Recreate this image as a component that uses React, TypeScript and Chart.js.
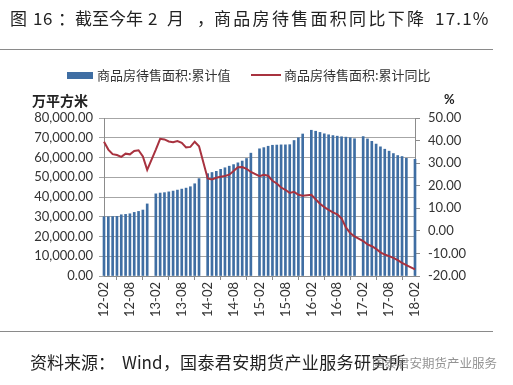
import React, { useEffect, useRef } from "react";
import { Chart, registerables } from "chart.js";

Chart.register(...registerables);

// Categories: 2012-02 .. 2018-02 (monthly, January has no data)
const yearLabels = ["12", "13", "14", "15", "16", "17", "18"];
const monthLabels = ["01", "02", "03", "04", "05", "06", "07", "08", "09", "10", "11", "12"];
const categories: string[] = [];
yearLabels.forEach((y) => {
  monthLabels.forEach((m) => {
    const key = `${y}-${m}`;
    if (key >= "12-02" && key <= "18-02") categories.push(key);
  });
});

// 商品房待售面积:累计值 (万平方米)
const stockArea: (number | null)[] = [
  30000, 30000, 30100, 30200, 31000, 31200, 31500, 32200, 32700, 33400, 36500, null,
  41600, 42000, 42200, 42600, 43000, 43500, 44000, 44500, 45200, 46700, 49300, null,
  51800, 52400, 53000, 54000, 54800, 55600, 56400, 57300, 58200, 59500, 62200, null,
  64400, 65000, 65700, 66200, 66300, 66400, 66400, 66500, 68600, 70000, 71900, null,
  73800, 73300, 72700, 72000, 71500, 71100, 70800, 70500, 70300, 70000, 69500, null,
  70600, 69400, 68200, 66800, 65400, 64200, 63200, 62000, 61000, 60500, 59600, null,
  59100,
];

// 商品房待售面积:累计同比 (%)
const stockYoY: (number | null)[] = [
  39.5, 36, 34, 33.6, 32.8, 34.2, 33.9, 35.4, 35.7, 33, 27, null,
  36, 40.8, 40.5, 39.6, 39.3, 39.8, 39, 37, 37.2, 39.5, 37.5, null,
  23.2, 22.8, 23.5, 24, 24.3, 24.9, 26.5, 28.2, 28.3, 27.5, 26.1, null,
  24.2, 24.8, 24.4, 22.2, 21, 19.2, 18.2, 16.8, 17.3, 16, 15.6, null,
  16, 14, 12, 10.5, 9.3, 8.2, 7.3, 5.5, 1.5, -1, -2.5, null,
  -4.5, -6, -6.8, -8, -9.5, -10.5, -11.2, -12, -13, -14.2, -15.2, null,
  -17.1,
];

const leftAxis = { min: 0, max: 80000, step: 10000 };
const rightAxis = { min: -20, max: 50, step: 10 };

const barLabel = "商品房待售面积:累计值";
const lineLabel = "商品房待售面积:累计同比";
const titleParts = ["图", "16", "：", "截至今年", "2", "月", "，", "商品房待售面积同比下降", "17.1%"];
const sourceParts = ["资料来源：", "Wind", "，", "国泰君安期货产业服务研究所"];
const watermarkText = "国泰君安期货产业服务";

const BAR_COLOR = "#3f6ea3";
const LINE_COLOR = "#a8323f";
const TICK_FONT = { family: "Lato, 'Open Sans', sans-serif", size: 13 };
const CJK = "'Noto Sans CJK SC', 'Noto Sans', sans-serif";

function Txt(props: {
  x: number;
  y: number;
  size: number;
  children: React.ReactNode;
  ls?: number;
  weight?: number;
  color?: string;
  family?: string;
}) {
  return (
    <span
      style={{
        position: "absolute",
        left: props.x,
        top: props.y,
        fontSize: props.size,
        lineHeight: `${Math.round(props.size * 1.4)}px`,
        letterSpacing: props.ls ?? 0,
        fontWeight: props.weight ?? 400,
        color: props.color ?? "#222",
        fontFamily: props.family ?? CJK,
        whiteSpace: "nowrap",
      }}
    >
      {props.children}
    </span>
  );
}

export default function App() {
  const canvasRef = useRef<HTMLCanvasElement | null>(null);

  useEffect(() => {
    if (!canvasRef.current) return;
    const chart = new Chart(canvasRef.current, {
      type: "bar",
      data: {
        labels: categories,
        datasets: [
          {
            type: "line",
            label: lineLabel,
            data: stockYoY,
            yAxisID: "y1",
            borderColor: LINE_COLOR,
            backgroundColor: LINE_COLOR,
            borderWidth: 2,
            pointRadius: 0,
            tension: 0,
            spanGaps: true,
            order: 0,
          } as any,
          {
            type: "bar",
            label: barLabel,
            data: stockArea,
            yAxisID: "y",
            backgroundColor: BAR_COLOR,
            borderWidth: 0,
            barThickness: 2,
            clip: 3,
            order: 1,
          } as any,
        ],
      },
      options: {
        responsive: false,
        animation: false,
        layout: { padding: { top: 118, left: 0, right: 0, bottom: 0 } },
        plugins: {
          legend: { display: false },
          tooltip: { enabled: false },
        },
        scales: {
          x: {
            type: "category",
            offset: false,
            grid: {
              display: true,
              drawOnChartArea: false,
              drawTicks: true,
              tickLength: 4,
              color: "#8c8c8c",
            },
            border: { display: true, color: "#8c8c8c" },
            ticks: {
              autoSkip: false,
              minRotation: 90,
              maxRotation: 90,
              padding: 2,
              font: TICK_FONT,
              color: "#333",
            },
            afterBuildTicks: (scale: any) => {
              scale.ticks = scale.ticks.filter((_t: any, i: number) => i % 6 === 0);
            },
            afterFit: (scale: any) => {
              scale.height = 109;
            },
          } as any,
          y: {
            position: "left",
            min: leftAxis.min,
            max: leftAxis.max,
            ticks: {
              stepSize: leftAxis.step,
              padding: 6,
              font: TICK_FONT,
              color: "#333",
              callback: (v: any) =>
                Number(v).toLocaleString("en-US", {
                  minimumFractionDigits: 2,
                  maximumFractionDigits: 2,
                }),
            },
            grid: { color: "#a6a6a6", tickLength: 5 },
            border: { display: true, color: "#8c8c8c" },
            afterFit: (scale: any) => {
              scale.width = 104;
            },
          } as any,
          y1: {
            position: "right",
            min: rightAxis.min,
            max: rightAxis.max,
            ticks: {
              stepSize: rightAxis.step,
              padding: 8,
              font: TICK_FONT,
              color: "#333",
              callback: (v: any) => Number(v).toFixed(2),
            },
            grid: { drawOnChartArea: false, tickLength: 5, color: "#8c8c8c" },
            border: { display: true, color: "#8c8c8c" },
            afterFit: (scale: any) => {
              scale.width = 98;
            },
          } as any,
        },
      },
    });
    return () => chart.destroy();
  }, []);

  return (
    <div
      style={{
        position: "absolute",
        left: 0,
        top: 0,
        width: 513,
        height: 385,
        background: "#fff",
        overflow: "hidden",
        fontFamily: CJK,
        color: "#222",
      }}
    >
      <canvas
        ref={canvasRef}
        width={513}
        height={385}
        style={{ position: "absolute", left: 0, top: 0, width: 513, height: 385 }}
      />
      {/* title */}
      <div aria-label="title">
        <Txt x={10} y={6} size={17}>{titleParts[0]}</Txt>
        <Txt x={33} y={6} size={17} ls={0.5}>{titleParts[1]}</Txt>
        <Txt x={58} y={6} size={17}>{titleParts[2]}</Txt>
        <Txt x={75} y={6} size={17}>{titleParts[3]}</Txt>
        <Txt x={148} y={6} size={17}>{titleParts[4]}</Txt>
        <Txt x={167} y={6} size={17}>{titleParts[5]}</Txt>
        <Txt x={197} y={6} size={17}>{titleParts[6]}</Txt>
        <Txt x={214} y={6} size={17} ls={2.3}>{titleParts[7]}</Txt>
        <Txt x={435} y={6} size={17} ls={1.2}>{titleParts[8]}</Txt>
      </div>
      <div
        style={{
          position: "absolute",
          left: 0,
          top: 49,
          width: 493,
          height: 1,
          background: "#8a8a8a",
        }}
      />
      {/* legend */}
      <div
        style={{
          position: "absolute",
          left: 67,
          top: 72,
          width: 26,
          height: 7,
          background: BAR_COLOR,
        }}
      />
      <Txt x={97} y={66} size={13} color="#333">{barLabel}</Txt>
      <div
        style={{
          position: "absolute",
          left: 251,
          top: 74,
          width: 30,
          height: 2,
          background: LINE_COLOR,
        }}
      />
      <Txt x={284} y={66} size={13} color="#333">{lineLabel}</Txt>
      {/* axis titles */}
      <Txt x={32} y={90} size={14} weight={700}>万平方米</Txt>
      <Txt x={444} y={90} size={13} weight={700} family="Lato, sans-serif">%</Txt>
      {/* footer */}
      <div
        style={{
          position: "absolute",
          left: 0,
          top: 331,
          width: 493,
          height: 1,
          background: "#8a8a8a",
        }}
      />
      <Txt x={30} y={350} size={17}>{sourceParts[0]}</Txt>
      <Txt x={122} y={350} size={17}>{sourceParts[1]}</Txt>
      <Txt x={163} y={350} size={17}>{sourceParts[2]}</Txt>
      <Txt x={180} y={350} size={17} ls={0.4}>{sourceParts[3]}</Txt>
      <Txt x={372} y={354} size={12.5} color="rgba(120,120,120,0.8)">{watermarkText}</Txt>
    </div>
  );
}
